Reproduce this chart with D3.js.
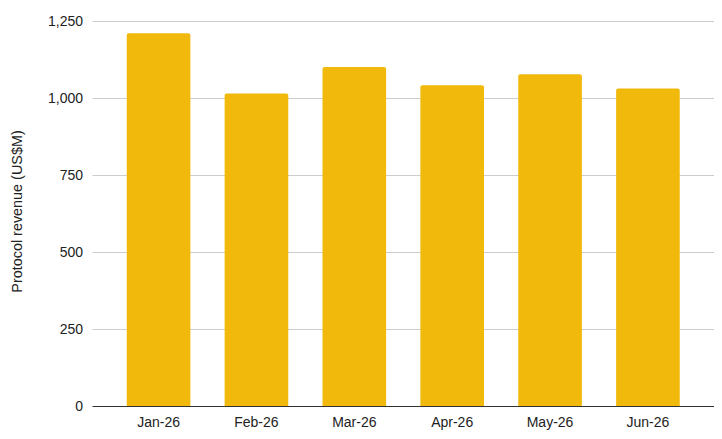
<!DOCTYPE html>
<html><head><meta charset="utf-8">
<script src="https://cdn.jsdelivr.net/npm/d3@7"></script>
<style>body{margin:0;background:#fff}svg{display:block}</style>
</head><body>
<script>
const months = ["Jan-26","Feb-26","Mar-26","Apr-26","May-26","Jun-26"];
const revenue = [1210, 1015, 1101, 1041, 1077, 1031];
const yTicks = [0, 250, 500, 750, 1000, 1250];

const W = 722, H = 439;
const m = {left: 92.5, right: 8, top: 21, bottom: 33};
const svg = d3.select("body").append("svg").attr("width", W).attr("height", H)
  .style("font-family", "'Liberation Sans', Arial, sans-serif");

const x = d3.scaleBand().domain(months).range([m.left, W - m.right]).paddingInner(0.35).paddingOuter(0.35);
const y = d3.scaleLinear().domain([0, 1250]).range([H - m.bottom, m.top]);

// gridlines
svg.append("g").selectAll("line").data(yTicks.filter(d => d > 0)).join("line")
  .attr("x1", m.left).attr("x2", W - m.right)
  .attr("y1", d => Math.round(y(d)) + 0.5).attr("y2", d => Math.round(y(d)) + 0.5)
  .attr("stroke", "#cccccc").attr("stroke-width", 1);

// y tick labels
svg.append("g").selectAll("text").data(yTicks).join("text")
  .attr("x", 83).attr("y", d => y(d)).attr("dy", "0.35em")
  .attr("text-anchor", "end").attr("font-size", 14).attr("fill", "#222")
  .text(d => d3.format(",")(d));

// bars with rounded top
const r = 2;
svg.append("g").selectAll("path").data(months).join("path")
  .attr("fill", "#F0B90B")
  .attr("d", (d, i) => {
    const x0 = x(d), w = x.bandwidth(), y0 = y(revenue[i]), yb = y(0);
    return `M${x0},${yb}V${y0 + r}Q${x0},${y0} ${x0 + r},${y0}H${x0 + w - r}Q${x0 + w},${y0} ${x0 + w},${y0 + r}V${yb}Z`;
  });

// x axis line
svg.append("line").attr("x1", m.left).attr("x2", W - m.right)
  .attr("y1", Math.round(y(0)) + 0.5).attr("y2", Math.round(y(0)) + 0.5)
  .attr("stroke", "#333").attr("stroke-width", 1);

// x labels
svg.append("g").selectAll("text").data(months).join("text")
  .attr("x", d => x(d) + x.bandwidth() / 2).attr("y", y(0) + 21)
  .attr("text-anchor", "middle").attr("font-size", 14).attr("fill", "#222")
  .text(d => d);

// y axis title
svg.append("text").attr("transform", `translate(22,211.5) rotate(-90)`)
  .attr("text-anchor", "middle").attr("font-size", 14.4).attr("fill", "#222")
  .text("Protocol revenue (US$M)");
</script>
</body></html>
